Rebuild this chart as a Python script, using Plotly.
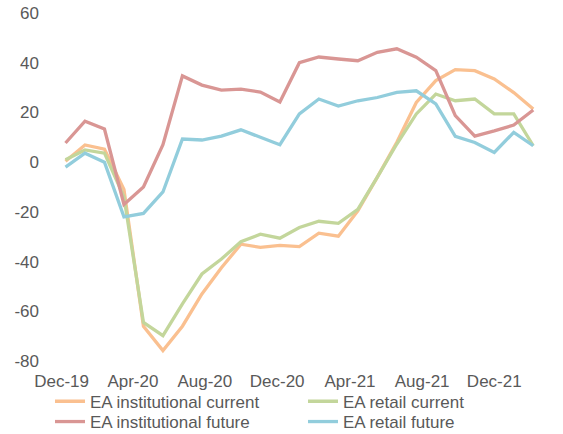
import plotly.graph_objects as go

months = list(range(25))  # Dec-19 .. Dec-21, monthly index
tick_labels = ["Dec-19", "Apr-20", "Aug-20", "Dec-20", "Apr-21", "Aug-21", "Dec-21"]
tick_positions = [-0.2, 3.46, 7.15, 10.86, 14.6, 18.3, 22.0]
y_ticks = [60, 40, 20, 0, -20, -40, -60, -80]
y_tick_labels = ["60", "40", "20", "0", "-20", "-40", "-60", "-80"]

inst_current = [0.4, 6.9, 5.2, -11, -66, -75.8, -66, -53, -42.5, -33, -34.3, -33.5, -34,
                -28.6, -29.8, -19.6, -6, 8, 24, 32.8, 37.2, 36.8, 33.5, 28, 21.4]
retail_current = [1, 4.9, 3.6, -14, -64.5, -69.8, -57, -45, -39, -32, -29, -30.6, -26.3,
                  -23.8, -24.6, -19, -6, 7.3, 19.4, 27.4, 24.7, 25.4, 19.4, 19.4, 6.6]
inst_future = [7.7, 16.5, 13.3, -17, -10, 7, 34.7, 31, 29, 29.4, 28.2, 24.2, 40,
               42.3, 41.5, 40.8, 44.2, 45.6, 42.2, 36.8, 18.7, 10.5, 12.6, 14.9, 21]
retail_future = [-2, 3.6, 0, -22, -20.6, -12, 9.3, 8.9, 10.5, 13, 10, 7, 19.4,
                 25.4, 22.6, 24.7, 26, 28.1, 28.7, 23.4, 10.4, 7.9, 3.9, 12, 6.6]

series = [
    ("EA institutional current", inst_current, "#FAC090"),
    ("EA retail current", retail_current, "#C3D69B"),
    ("EA institutional future", inst_future, "#D99694"),
    ("EA retail future", retail_future, "#92CDDC"),
]
legend_ids = ["legend", "legend2", "legend3", "legend4"]

W, H = 563, 434

fig = go.Figure()
for (name, vals, color), lg in zip(series, legend_ids):
    fig.add_trace(go.Scatter(x=months, y=vals, mode="lines", name=name, legend=lg,
                             line=dict(color=color, width=3.3)))

font = dict(family="Liberation Sans, Arial, sans-serif", size=17, color="#595959")
legend_common = dict(orientation="h", xref="container", yref="container",
                     xanchor="left", yanchor="middle", font=font,
                     bgcolor="rgba(0,0,0,0)", borderwidth=0)
col_x = [50 / W, 303 / W]
row_y = [1 - 401.7 / H, 1 - 422 / H]
fig.update_layout(
    width=W, height=H,
    margin=dict(l=45.5, r=20.25, t=13, b=73, autoexpand=False),
    paper_bgcolor="white", plot_bgcolor="white",
    font=font,
    showlegend=True,
    legend=dict(x=col_x[0], y=row_y[0], **legend_common),
    legend2=dict(x=col_x[1], y=row_y[0], **legend_common),
    legend3=dict(x=col_x[0], y=row_y[1], **legend_common),
    legend4=dict(x=col_x[1], y=row_y[1], **legend_common),
    xaxis=dict(range=[-1, 24.5], tickvals=tick_positions, ticktext=tick_labels,
               showgrid=False, zeroline=False, showline=False, ticks="",
               ticklabelstandoff=8, automargin=False),
    yaxis=dict(range=[-80, 60], tickvals=y_ticks, ticktext=y_tick_labels,
               showgrid=False, zeroline=False, showline=False, ticks="",
               ticklabelstandoff=6, automargin=False, ticklabeloverflow="allow"),
)
fig.write_html("out.html", config={"displayModeBar": False},
               post_script="document.body.style.margin='0px';")
